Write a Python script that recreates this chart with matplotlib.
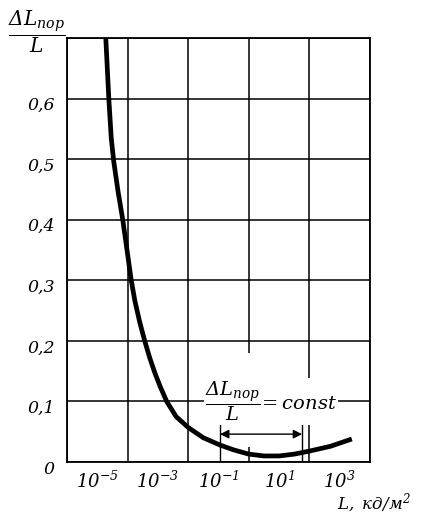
import numpy as np
import matplotlib.pyplot as plt
from matplotlib.patches import Rectangle
from matplotlib.transforms import ScaledTranslation

plt.rcParams['font.family'] = 'DejaVu Serif'
plt.rcParams['font.style'] = 'italic'
plt.rcParams['mathtext.fontset'] = 'custom'
plt.rcParams['mathtext.rm'] = 'DejaVu Serif:italic'
plt.rcParams['mathtext.it'] = 'DejaVu Serif:italic'

# curve: log10(L) and threshold ratio dL/L
log_lum = [-4.72, -4.62, -4.54, -4.46, -4.31, -4.16, -4.0, -3.88, -3.76, -3.6,
           -3.43, -3.27, -3.10, -2.92, -2.71, -2.4, -2.0, -1.5, -0.95, -0.5,
           0.0, 0.5, 1.0, 1.5, 2.0, 2.7, 3.4]
ratio = [0.70, 0.60, 0.535, 0.497, 0.445, 0.40, 0.343, 0.30, 0.266, 0.231,
         0.199, 0.172, 0.147, 0.124, 0.10, 0.075, 0.057, 0.040, 0.028, 0.020,
         0.013, 0.010, 0.010, 0.013, 0.018, 0.026, 0.038]

grid_x = [1e-6, 1e-4, 1e-2, 1e0, 1e2, 1e4]
label_x = [1e-5, 1e-3, 1e-1, 1e1, 1e3]
label_x_text = [r'$10^{-5}$', r'$10^{-3}$', r'$10^{-1}$', r'$10^{1}$', r'$10^{3}$']
y_ticks = [0, 0.1, 0.2, 0.3, 0.4, 0.5, 0.6, 0.7]
y_labels = ['0', '0,1', '0,2', '0,3', '0,4', '0,5', '0,6', '']

# range where the ratio is roughly constant
const_lo, const_hi = 10**-0.95, 10**1.76

lum = 10.0 ** np.array(log_lum)

fig = plt.figure(figsize=(4.21, 5.17), dpi=100)
ax = fig.add_axes([67/421, 55/517, 303/421, 424/517])

ax.set_xscale('log')
ax.set_xlim(1e-6, 1e4)
ax.set_ylim(0, 0.7)

ax.set_xticks(grid_x)
ax.set_xticklabels([])
ax.set_xticks(label_x, minor=True)
ax.set_xticklabels(label_x_text, minor=True, fontsize=13)
ax.tick_params(axis='x', which='both', length=0)
ax.tick_params(axis='x', which='minor', pad=6)

ax.set_yticks(y_ticks)
ax.set_yticklabels(y_labels, fontsize=12.5)
ax.tick_params(axis='y', length=0, pad=9)
off = ScaledTranslation(0, -5/100, fig.dpi_scale_trans)
for lab in ax.get_yticklabels():
    lab.set_transform(lab.get_transform() + off)

ax.set_axisbelow(True)
ax.grid(True, which='major', color='black', lw=1.1)
for sp in ax.spines.values():
    sp.set_linewidth(1.3)

# blank area behind the annotation
ax.add_patch(Rectangle((const_lo, 0.025), const_hi - const_lo, 0.155,
                       facecolor='white', edgecolor='none', zorder=1))

ax.plot(lum, ratio, color='black', lw=3.4, solid_joinstyle='round',
        solid_capstyle='butt', zorder=3)

for xv in (const_lo, const_hi):
    ax.plot([xv, xv], [0, 0.062], color='black', lw=1, zorder=3)
ax.annotate('', xy=(const_hi, 0.046), xytext=(const_lo, 0.046),
            arrowprops=dict(arrowstyle='<|-|>', color='black', lw=1,
                            mutation_scale=13, shrinkA=0, shrinkB=0),
            zorder=3)

ax.text(10**0.73, 0.1, r'$\dfrac{\Delta L_{пор}}{L}\!=const$', fontsize=14,
        ha='center', va='center', zorder=4,
        bbox=dict(facecolor='white', edgecolor='none', pad=1))

ax.set_ylabel(r'$\dfrac{\Delta L_{пор}}{L}$', fontsize=14.5, rotation=0,
              ha='center', va='center')
ax.yaxis.set_label_coords(-0.099, 1.014)
ax.set_xlabel(r'$L,\ кд/м^2$', fontsize=12, ha='right', va='center')
ax.xaxis.set_label_coords(1.135, -0.097)

fig.savefig('out.png', dpi=100)
